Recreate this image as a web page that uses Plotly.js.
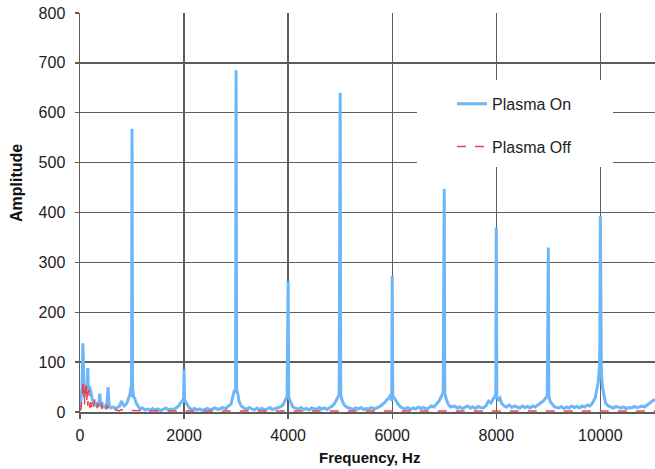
<!DOCTYPE html>
<html>
<head>
<meta charset="utf-8">
<script src="https://cdn.plot.ly/plotly-3.0.1.min.js"></script>
<style>html,body{margin:0;padding:0;background:#fff;}#chart{width:655px;height:469px;}</style>
</head>
<body>
<div id="chart"></div>
<script>
// Plasma On spectrum (Hz, amplitude)
const onFreq = [0,20,40,55,65,80,100,120,140,150,160,180,200,220,240,260,280,300,320,340,360,380,400,420,440,460,480,500,520,540,555,580,600,640,680,720,760,780,800,820,850,880,910,940,960,980,990,
1000,1010,1030,1050,1080,1120,1150,1200,1250,1300,1350,1400,1450,1500,1550,1600,1650,1700,1750,1800,1850,1900,1930,1960,1990,
2000,2010,2040,2070,2100,2150,2200,2250,2300,2350,2400,2450,2500,2550,2600,2650,2700,2750,2800,2850,2900,2940,2970,2990,
3000,3010,3030,3060,3100,3150,3200,3250,3300,3350,3400,3450,3500,3550,3600,3650,3700,3750,3800,3850,3900,3950,3980,
4000,4010,4040,4080,4120,4200,4250,4300,4350,4400,4450,4500,4550,4600,4650,4700,4750,4800,4850,4900,4950,4980,
5000,5010,5040,5080,5120,5200,5250,5300,5350,5400,5450,5500,5550,5600,5650,5700,5750,5800,5850,5900,5940,5970,5990,
6000,6010,6040,6080,6120,6160,6200,6250,6300,6350,6400,6450,6500,6550,6600,6650,6700,6750,6800,6850,6900,6950,6980,
7000,7010,7040,7080,7120,7200,7250,7300,7350,7400,7450,7500,7550,7600,7650,7700,7750,7800,7850,7900,7930,7960,7990,
8000,8010,8040,8070,8100,8150,8200,8250,8300,8350,8400,8450,8500,8550,8600,8650,8700,8750,8800,8850,8900,8950,8980,
9000,9010,9040,9080,9120,9200,9250,9300,9350,9400,9450,9500,9550,9600,9650,9700,9750,9800,9850,9900,9930,9960,9980,9990,
10000,10010,10020,10040,10070,10100,10150,10200,10250,10300,10350,10400,10450,10500,10550,10600,10650,10700,10750,10800,10850,10900,10950,11000,11050];
const onAmp = [5,25,50,138,60,45,30,35,55,88,40,52,45,30,22,25,15,20,12,18,10,37,12,20,10,14,8,12,20,50,18,10,8,10,7,9,12,18,22,16,12,15,20,30,35,50,30,
568,48,30,28,18,10,6,8,4,6,3,7,4,6,3,5,8,4,6,5,9,12,18,22,20,
85,24,18,14,8,5,7,4,6,3,5,7,4,6,8,5,7,9,6,12,15,30,45,40,
685,45,38,20,12,8,5,9,6,4,8,5,7,4,6,9,5,7,8,10,14,25,32,
262,30,22,12,8,6,9,5,7,4,8,6,5,9,6,8,5,9,12,18,28,35,
640,35,22,14,10,7,5,8,6,9,5,7,6,9,6,8,10,14,18,25,28,35,22,
273,32,28,20,15,10,8,6,9,5,8,6,10,7,9,6,8,12,10,15,22,32,40,
447,38,25,15,10,12,8,10,7,9,12,8,10,7,11,9,8,12,22,18,25,30,28,
370,30,25,28,18,12,10,14,9,12,10,8,12,9,11,8,12,10,14,18,22,28,33,
330,30,20,14,10,8,11,7,10,8,12,9,11,8,12,10,14,12,18,28,45,60,88,130,
393,100,75,50,30,18,12,10,8,11,9,8,10,7,9,8,11,9,10,12,10,15,18,22,25];

// Plasma Off spectrum (Hz, amplitude)
const offFreq = [0,20,40,50,60,70,80,90,100,110,120,130,140,150,160,170,180,190,200,220,240,260,280,300,320,340,360,380,400,420,440,460,480,500,520,540,560,580,600,650,700,750,800,850,900,1000,1200,1500,2000,2500,3000,3500,4000,4500,5000,5500,6000,6500,7000,7500,8000,8500,9000,9500,10000,10500,11050];
const offAmp = [2,8,30,55,65,25,48,15,35,58,62,20,40,12,30,45,18,8,28,10,22,8,25,12,6,18,8,14,20,6,15,10,12,5,14,8,10,4,6,3,4,2,5,3,2,3,2,2,2,2,2,2,2,2,2,2,2,2,2,2,2,2,2,2,2,2,2];

const xTicks = [0,2000,4000,6000,8000,10000];
const xTitle = 'Frequency, Hz';
const yTitle = 'Amplitude';

const traces = [
  {x: onFreq, y: onAmp, type: 'scatter', mode: 'lines', name: 'Plasma On', legendgroup: 'a',
   line: {color: '#6db6f7', width: 3}},
  {x: offFreq, y: offAmp, type: 'scatter', mode: 'lines', name: 'Plasma Off', legendgroup: 'b',
   line: {color: '#e8474a', width: 1.5, dash: 'dash'}}
];

const gridC = '#5c5c5c';
const fontFam = '"Liberation Sans", Arial, sans-serif';
const layout = {
  width: 655, height: 469,
  margin: {l: 80, r: 0, t: 13, b: 57},
  paper_bgcolor: '#fff', plot_bgcolor: '#fff',
  font: {family: fontFam, color: '#222'},
  xaxis: {range: [0, 11050], tickvals: xTicks, ticktext: xTicks.map(String),
    showgrid: true, gridcolor: gridC, gridwidth: 1.3, zeroline: false,
    showline: true, linecolor: gridC, linewidth: 1.5,
    ticks: 'outside', ticklen: 5, tickcolor: gridC, tickwidth: 1.3,
    ticklabelstandoff: 3,
    tickfont: {size: 16, color: '#222'}},
  yaxis: {range: [0, 800], dtick: 100, showgrid: true, gridcolor: gridC, gridwidth: 1.3, zeroline: false,
    showline: true, linecolor: gridC, linewidth: 1.5,
    ticks: 'outside', ticklen: 4, tickcolor: gridC, tickwidth: 1.3,
    ticklabelstandoff: 6,
    tickfont: {size: 16, color: '#222'}},
  annotations: [
    {text: '<b>' + xTitle + '</b>', xref: 'paper', yref: 'paper', x: 0.504, y: -0.1128,
     xanchor: 'center', yanchor: 'middle', showarrow: false, font: {size: 15, color: '#111'}},
    {text: '<b>' + yTitle + '</b>', xref: 'paper', yref: 'paper', x: -0.1096, y: 0.574,
     textangle: -90, xanchor: 'center', yanchor: 'middle', showarrow: false, font: {size: 16, color: '#111'}}
  ],
  showlegend: true,
  legend: {x: 0.647, xanchor: 'left', y: 0.815, yanchor: 'top', bgcolor: 'rgba(0,0,0,0)',
    font: {size: 16, color: '#222'}, tracegroupgap: 19, traceorder: 'grouped'},
  shapes: [{type: 'rect', xref: 'paper', yref: 'paper', x0: 0.586, x1: 0.927, y0: 0.614, y1: 0.832,
    fillcolor: '#fff', line: {width: 0}, layer: 'above'}]
};

Plotly.newPlot('chart', traces, layout, {displayModeBar: false, staticPlot: true});
</script>
</body>
</html>
